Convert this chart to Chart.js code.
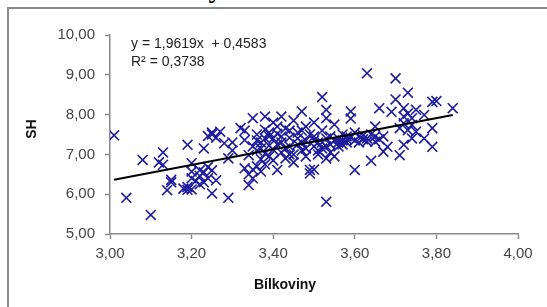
<!DOCTYPE html>
<html>
<head>
<meta charset="utf-8">
<script src="https://cdn.jsdelivr.net/npm/chart.js@4/dist/chart.umd.min.js"></script>
<style>
  html, body { margin: 0; padding: 0; background: #fff; overflow: hidden; }
  #wrap { position: relative; width: 547px; height: 307px; overflow: hidden; }
  #nadpis {
    position: absolute; left: 0; top: -26px; white-space: nowrap;
    font: bold 28px "Liberation Serif", "DejaVu Serif", serif; line-height: 28px; color: #000;
  }
  #ramecek {
    position: absolute; left: 7px; top: 7px; width: 600px; height: 400px;
    border-left: 2px solid #8a8a8a; border-top: 2px solid #8a8a8a;
  }
  #graf { position: absolute; left: 0; top: 0; }
</style>
</head>
<body>
<div id="wrap">
  <div id="nadpis">Osa x: Bílk. / osa y: SH kor.</div>
  <div id="ramecek"></div>
  <canvas id="graf" width="547" height="307"></canvas>
</div>
<script>
// hodnoty
const bilkoviny = [
  3.01, 3.04, 3.08, 3.10, 3.12, 3.13, 3.13, 3.14, 3.15, 3.15,
  3.18, 3.19, 3.19, 3.19, 3.20, 3.20, 3.20, 3.20, 3.21, 3.22,
  3.22, 3.22, 3.23, 3.23, 3.23, 3.24, 3.24, 3.24, 3.25, 3.25,
  3.25, 3.25, 3.26, 3.26, 3.27, 3.28, 3.29, 3.29, 3.30, 3.30,
  3.32, 3.33, 3.33, 3.34, 3.34, 3.35, 3.35, 3.35, 3.35, 3.36,
  3.36, 3.37, 3.37, 3.37, 3.38, 3.38, 3.38, 3.38, 3.39, 3.39,
  3.39, 3.40, 3.40, 3.40, 3.40, 3.41, 3.41, 3.42, 3.42, 3.42,
  3.43, 3.43, 3.44, 3.44, 3.45, 3.45, 3.45, 3.46, 3.46, 3.47,
  3.47, 3.48, 3.48, 3.48, 3.49, 3.49, 3.49, 3.50, 3.50, 3.50,
  3.51, 3.51, 3.52, 3.52, 3.52, 3.53, 3.53, 3.53, 3.53, 3.53,
  3.54, 3.54, 3.55, 3.55, 3.55, 3.56, 3.56, 3.57, 3.57, 3.58,
  3.58, 3.59, 3.59, 3.59, 3.60, 3.60, 3.60, 3.61, 3.62, 3.63,
  3.63, 3.64, 3.64, 3.65, 3.65, 3.65, 3.66, 3.66, 3.67, 3.67,
  3.68, 3.69, 3.70, 3.70, 3.71, 3.71, 3.72, 3.72, 3.72, 3.72,
  3.73, 3.73, 3.73, 3.74, 3.74, 3.74, 3.75, 3.75, 3.77, 3.77,
  3.79, 3.79, 3.79, 3.80, 3.84,
  3.36, 3.37, 3.38, 3.39, 3.41, 3.41, 3.42, 3.43, 3.44, 3.44,
  3.46, 3.47, 3.47, 3.48, 3.50, 3.50, 3.51, 3.52, 3.53, 3.54,
  3.56, 3.57, 3.58, 3.61, 3.62, 3.63, 3.33, 3.34, 3.36
];
const sh = [
  7.48, 5.91, 6.86, 5.48, 6.80, 6.74, 7.05, 6.10, 6.36, 6.30,
  6.14, 6.11, 6.18, 7.24, 6.78, 6.57, 6.40, 6.12, 6.33, 6.60,
  6.25, 6.46, 7.15, 6.55, 6.30, 6.40, 7.46, 6.68, 7.55, 7.50,
  6.02, 6.60, 6.35, 7.42, 7.57, 7.28, 6.90, 5.91, 7.30, 7.10,
  7.66, 7.36, 7.60, 6.23, 6.98, 6.40, 7.91, 7.20, 6.62, 7.50,
  7.10, 6.88, 6.57, 7.30, 7.95, 7.62, 7.02, 6.75, 7.45, 7.22,
  6.95, 7.80, 7.40, 7.12, 6.85, 6.61, 7.52, 7.95, 7.30, 7.05,
  7.65, 6.90, 7.42, 7.20, 7.85, 7.00, 6.80, 7.55, 7.25, 8.08,
  7.10, 7.70, 7.35, 6.95, 6.61, 7.50, 6.52, 7.20, 7.80, 6.62,
  7.30, 7.00, 8.44, 7.60, 7.15, 5.81, 8.12, 7.91, 7.40, 6.90,
  7.25, 7.05, 7.75, 7.35, 6.95, 7.40, 7.20, 7.50, 7.35, 7.45,
  7.30, 8.08, 7.90, 7.42, 6.61, 7.55, 7.35, 7.45, 7.38, 9.04,
  7.40, 6.84, 7.50, 7.70, 7.32, 7.45, 8.16, 7.38, 7.07, 7.45,
  7.19, 8.07, 8.38, 8.91, 6.98, 7.66, 7.95, 8.16, 7.78, 7.24,
  8.55, 8.03, 7.61, 7.91, 7.40, 7.74, 8.12, 7.57, 7.99, 7.40,
  7.66, 7.19, 8.32, 8.34, 8.16,
  7.35, 7.15, 7.40, 7.55, 7.25, 7.70, 7.45, 7.15, 7.60, 7.00,
  7.40, 7.30, 7.60, 7.15, 7.35, 7.45, 7.10, 7.30, 7.20, 7.45,
  7.30, 7.25, 7.38, 7.30, 7.48, 7.32, 6.65, 6.50, 6.70
];

// lineární trend z rovnice v grafu
const smernice = 1.9619;
const posun = 0.4583;
const rovnice = ['y = 1,9619x  + 0,4583', 'R² = 0,3738'];

const osaXTicks = [3.0, 3.2, 3.4, 3.6, 3.8, 4.0];
const osaYTicks = [5, 6, 7, 8, 9, 10];

const body = bilkoviny.map((x, i) => ({ x: x, y: sh[i] }));
const xMin = Math.min(...bilkoviny);
const xMax = Math.max(...bilkoviny);
const trend = [
  { x: xMin, y: smernice * xMin + posun },
  { x: xMax, y: smernice * xMax + posun }
];

const carka = v => v.toFixed(2).replace('.', ',');
const pismo = '"Liberation Sans", Arial, sans-serif';

// popisky os a rovnice trendu
const popisky = {
  id: 'popisky',
  afterDraw(chart) {
    const c = chart.ctx;
    const ca = chart.chartArea;
    c.save();
    c.fillStyle = '#222';
    c.font = '14px ' + pismo;
    c.textBaseline = 'middle';
    c.textAlign = 'left';
    c.fillText(rovnice[0], ca.left + 21, 44);
    c.fillText(rovnice[1], ca.left + 21, 62);

    c.fillStyle = '#111';
    c.font = 'bold 14px ' + pismo;
    c.textAlign = 'center';
    c.fillText('Bílkoviny', 285, 285);
    c.translate(32, 129);
    c.rotate(-Math.PI / 2);
    c.fillText('SH', 0, 0);
    c.restore();
  }
};

const graf = new Chart(document.getElementById('graf').getContext('2d'), {
  type: 'scatter',
  data: {
    datasets: [
      {
        type: 'line',
        label: 'trend',
        data: trend,
        borderColor: '#000',
        borderWidth: 2,
        pointRadius: 0,
        fill: false
      },
      {
        label: 'SH',
        data: body,
        pointStyle: 'crossRot',
        pointRadius: 7,
        pointBorderWidth: 1.6,
        borderColor: '#1c1c9c',
        backgroundColor: '#1c1c9c'
      }
    ]
  },
  options: {
    responsive: false,
    animation: false,
    layout: { padding: { left: 0, right: 29, top: 35, bottom: 0 } },
    plugins: {
      legend: { display: false },
      tooltip: { enabled: false }
    },
    scales: {
      x: {
        type: 'linear',
        min: 3,
        max: 4,
        afterFit: s => { s.height = 73; },
        afterBuildTicks: s => { s.ticks = osaXTicks.map(v => ({ value: v })); },
        grid: { drawOnChartArea: false, tickLength: 5, tickColor: '#8a8a8a', tickWidth: 1.5 },
        border: { color: '#8a8a8a', width: 1.5 },
        ticks: {
          padding: 6,
          color: '#444',
          font: { size: 15, family: pismo },
          callback: v => carka(v)
        }
      },
      y: {
        min: 5,
        max: 10,
        afterFit: s => { s.width = 110; },
        afterBuildTicks: s => { s.ticks = osaYTicks.map(v => ({ value: v })); },
        grid: { drawOnChartArea: false, tickLength: 5, tickColor: '#8a8a8a', tickWidth: 1.5 },
        border: { color: '#8a8a8a', width: 1.5 },
        ticks: {
          padding: 10,
          color: '#444',
          font: { size: 15, family: pismo },
          callback: v => carka(v)
        }
      }
    }
  },
  plugins: [popisky]
});
</script>
</body>
</html>
